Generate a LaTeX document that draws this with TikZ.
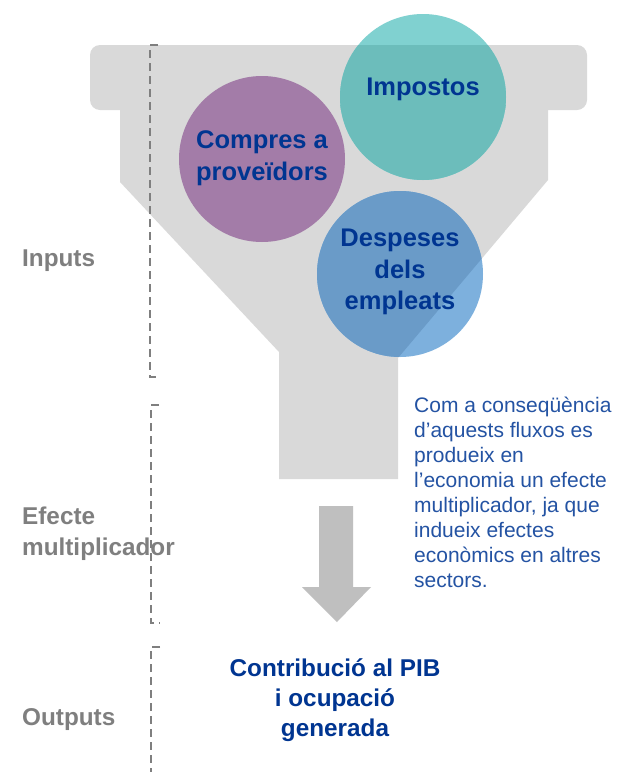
\documentclass[tikz,border=0pt]{standalone}
\usepackage{fontspec}
\setmainfont{Liberation Sans}
\definecolor{funnelgray}{HTML}{D9D9D9}
\definecolor{arrowgray}{HTML}{BFBFBF}
\definecolor{labelgray}{HTML}{7F7F7F}
\definecolor{darkblue}{HTML}{003591}
\definecolor{bodyblue}{HTML}{2453A3}
\definecolor{purplec}{HTML}{A37CA8}
\definecolor{tealout}{HTML}{80D1D0}
\definecolor{tealin}{HTML}{6CBDBB}
\definecolor{blueout}{HTML}{7DB0DD}
\definecolor{bluein}{HTML}{6A9BC8}
\tikzset{
  circlabel/.style={font=\bfseries\fontsize{25.5}{31.5}\selectfont, text=darkblue, align=center, inner sep=0pt},
  sidelabel/.style={font=\bfseries\fontsize{24.3}{31}\selectfont, text=labelgray, align=left, anchor=west, inner sep=0pt},
  bracket/.style={draw=labelgray, line width=1.8pt, dash pattern=on 8pt off 5pt},
  bodytext/.style={font=\fontsize{21}{25}\selectfont, text=bodyblue, align=left, inner sep=0pt},
  outtext/.style={font=\bfseries\fontsize{24.3}{30}\selectfont, text=darkblue, align=center, inner sep=0pt}
}
\begin{document}
\begin{tikzpicture}[x=1pt,y=-1pt]
\useasboundingbox (0,0) rectangle (626,772);
\fill[white] (0,0) rectangle (626,772);
% funnel
\fill[funnelgray, rounded corners=10pt] (90,45) rectangle (587,110);
\fill[funnelgray] (120,105) -- (120,182) -- (279,352) -- (279,479) -- (398,479) -- (398,358) -- (548,180) -- (548,105) -- cycle;
% circles (outside colour)
\fill[purplec] (262,159) circle (83pt);
\fill[tealout] (423,97) circle (83pt);
\fill[blueout] (400,274) circle (83pt);
% circles (inside the funnel)
\begin{scope}
  \clip[rounded corners=10pt] (90,45) rectangle (587,110);
  \fill[tealin] (423,97) circle (83pt);
  \fill[bluein] (400,274) circle (83pt);
\end{scope}
\begin{scope}
  \clip (120,105) -- (120,182) -- (279,352) -- (279,479) -- (398,479) -- (398,358) -- (548,180) -- (548,105) -- cycle;
  \fill[tealin] (423,97) circle (83pt);
  \fill[bluein] (400,274) circle (83pt);
\end{scope}
% circle texts
\node[circlabel] (compres) at (262,158) {Compres a\\proveïdors};
\node[circlabel] (impostos) at (423,89) {Impostos};
\node[circlabel] (despeses) at (400,272) {Despeses\\dels\\empleats};
% brackets
\draw[bracket] (158,45) -- (150,45) -- (150,377) -- (158,377);
\draw[bracket] (159,405) -- (151,405) -- (151,623) -- (160,623);
\draw[bracket] (160,647) -- (151,647) -- (151,772);
% side labels
\node[sidelabel] (inputs) at (22,261) {Inputs};
\node[sidelabel] (efecte) at (22,534) {Efecte\\multiplicador};
\node[sidelabel] (outputs) at (22,720) {Outputs};
% arrow
\fill[arrowgray] (319,506) -- (353,506) -- (353,587) -- (371,587) -- (337,622) -- (302,587) -- (319,587) -- cycle;
% body text
\node[bodytext, anchor=north west] (body) at (414,397) {Com a conseqüència\\d’aquests fluxos es\\produeix en\\l’economia un efecte\\multiplicador, ja que\\indueix efectes\\econòmics en altres\\sectors.};
% output text
\node[outtext] (output) at (335,700) {Contribució al PIB\\i ocupació\\generada};
\end{tikzpicture}
\end{document}
